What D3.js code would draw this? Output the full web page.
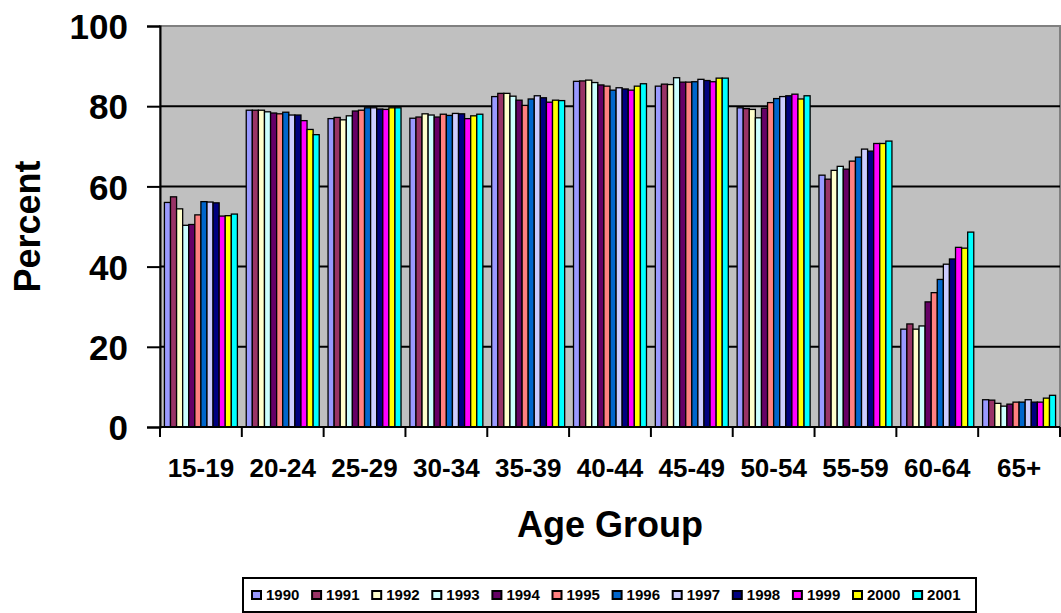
<!DOCTYPE html>
<html>
<head>
<meta charset="utf-8">
<script src="https://cdn.jsdelivr.net/npm/d3@7"></script>
<style>
  html, body { margin: 0; padding: 0; background: #ffffff; }
  svg { display: block; }
  text { font-family: "Liberation Sans", Arial, sans-serif; font-weight: bold; fill: #000; }
</style>
</head>
<body>
<svg id="chart" width="1061" height="613"></svg>
<script>
const categories = ["15-19","20-24","25-29","30-34","35-39","40-44","45-49","50-54","55-59","60-64","65+"];
const years = ["1990","1991","1992","1993","1994","1995","1996","1997","1998","1999","2000","2001"];
const colors = ["#9999FF","#993366","#FFFFCC","#CCFFFF","#660066","#FF8080","#0066CC","#CCCCFF","#000080","#FF00FF","#FFFF00","#00FFFF"];
const yTicks = [0,20,40,60,80,100];

const s1990 = [56.0, 79.0, 76.9, 77.0, 82.4, 86.2, 85.0, 79.6, 62.8, 24.4, 6.8];
const s1991 = [57.4, 79.0, 77.2, 77.3, 83.2, 86.3, 85.5, 79.4, 61.8, 25.7, 6.7];
const s1992 = [54.4, 79.0, 76.6, 78.1, 83.2, 86.5, 85.4, 79.2, 64.0, 24.4, 5.9];
const s1993 = [50.3, 78.6, 77.6, 77.8, 82.5, 85.9, 87.1, 77.1, 65.0, 25.2, 5.2];
const s1994 = [50.5, 78.3, 78.8, 77.3, 81.5, 85.3, 86.0, 79.5, 64.3, 31.2, 5.7];
const s1995 = [52.9, 78.1, 79.0, 78.0, 80.2, 85.0, 86.0, 80.9, 66.3, 33.5, 6.2];
const s1996 = [56.2, 78.5, 79.6, 77.7, 81.8, 84.0, 86.1, 81.9, 67.3, 36.8, 6.2];
const s1997 = [56.1, 77.8, 79.6, 78.2, 82.6, 84.6, 86.7, 82.4, 69.3, 40.6, 6.8];
const s1998 = [55.9, 77.8, 79.3, 78.1, 82.1, 84.3, 86.4, 82.6, 68.8, 41.9, 6.2];
const s1999 = [52.6, 76.4, 79.2, 76.9, 81.0, 84.0, 86.1, 83.0, 70.7, 44.8, 6.2];
const s2000 = [52.7, 74.2, 79.6, 77.6, 81.5, 85.0, 87.0, 81.8, 70.7, 44.6, 7.2];
const s2001 = [53.1, 72.9, 79.6, 78.0, 81.4, 85.6, 87.0, 82.6, 71.3, 48.6, 7.9];

const seriesValues = [s1990,s1991,s1992,s1993,s1994,s1995,s1996,s1997,s1998,s1999,s2000,s2001];

const svg = d3.select("#chart");
const plot = {left: 160, right: 1060, top: 26, bottom: 427};

const x0 = d3.scaleBand().domain(categories).range([plot.left, plot.right])
  .paddingInner(0.108).paddingOuter(0.054);
const x1 = d3.scaleBand().domain(years).range([0, x0.bandwidth()]);
const xEdge = d3.scaleLinear().domain([0, categories.length]).range([plot.left, plot.right]);
const y = d3.scaleLinear().domain([0, 100]).range([plot.bottom, plot.top]);

// plot background
svg.append("rect")
  .attr("x", plot.left).attr("y", plot.top)
  .attr("width", plot.right - plot.left).attr("height", plot.bottom - plot.top)
  .attr("fill", "#C0C0C0").attr("stroke", "#808080").attr("stroke-width", 2);

// gridlines
svg.append("g").selectAll("line")
  .data(yTicks.filter(t => t > 0 && t < 100))
  .join("line")
  .attr("x1", plot.left).attr("x2", plot.right)
  .attr("y1", d => y(d)).attr("y2", d => y(d))
  .attr("stroke", "#000").attr("stroke-width", 2);

// bars
const rows = categories.map((c, ci) => ({cat: c, vals: years.map((yr, si) => ({year: yr, si, v: seriesValues[si][ci]}))}));
svg.append("g").selectAll("g")
  .data(rows)
  .join("g")
  .attr("transform", d => `translate(${x0(d.cat)},0)`)
  .selectAll("rect")
  .data(d => d.vals)
  .join("rect")
  .attr("x", d => x1(d.year))
  .attr("y", d => y(d.v))
  .attr("width", x1.bandwidth())
  .attr("height", d => y(0) - y(d.v))
  .attr("fill", d => colors[d.si])
  .attr("stroke", "#000").attr("stroke-width", 1.3);

// y axis
const yAxis = d3.axisLeft(y).tickValues(yTicks).tickSize(13).tickPadding(19).tickFormat(d3.format("d"));
const gy = svg.append("g").attr("transform", `translate(${plot.left},0)`).call(yAxis);
gy.select(".domain").attr("stroke", "#000").attr("stroke-width", 2);
gy.selectAll(".tick line").attr("stroke", "#000").attr("stroke-width", 2);
gy.selectAll(".tick text").style("font-size", "35px").style("font-family", "'Liberation Sans', Arial, sans-serif").style("font-weight", "bold").attr("dy", "0.36em");

// x axis line and ticks at category edges
svg.append("line").attr("x1", plot.left).attr("x2", plot.right)
  .attr("y1", plot.bottom).attr("y2", plot.bottom)
  .attr("stroke", "#000").attr("stroke-width", 2);
svg.append("g").selectAll("line")
  .data(d3.range(categories.length + 1))
  .join("line")
  .attr("x1", d => xEdge(d)).attr("x2", d => xEdge(d))
  .attr("y1", plot.bottom).attr("y2", plot.bottom + 10)
  .attr("stroke", "#000").attr("stroke-width", 2);

// x labels
svg.append("g").selectAll("text")
  .data(categories)
  .join("text")
  .attr("x", d => x0(d) + x0.bandwidth() / 2)
  .attr("y", 477)
  .attr("text-anchor", "middle")
  .style("font-size", "26px")
  .text(d => d);

// axis titles
svg.append("text")
  .attr("x", (plot.left + plot.right) / 2).attr("y", 537)
  .attr("text-anchor", "middle").style("font-size", "36px")
  .text("Age Group");
svg.append("text")
  .attr("transform", `translate(40,${(plot.top + plot.bottom) / 2}) rotate(-90)`)
  .attr("text-anchor", "middle").style("font-size", "36px")
  .text("Percent");

// legend
const lg = {x: 243, y: 578, w: 733, h: 34, first: 251, step: 60.1};
svg.append("rect").attr("x", lg.x).attr("y", lg.y).attr("width", lg.w).attr("height", lg.h)
  .attr("fill", "#fff").attr("stroke", "#000").attr("stroke-width", 2);
const items = svg.append("g").selectAll("g")
  .data(years)
  .join("g")
  .attr("transform", (d, i) => `translate(${lg.first + i * lg.step},0)`);
items.append("rect")
  .attr("x", 1).attr("y", 591).attr("width", 9).attr("height", 8)
  .attr("fill", (d, i) => colors[i]).attr("stroke", "#000").attr("stroke-width", 2);
items.append("text")
  .attr("x", 15).attr("y", 600)
  .style("font-size", "15px")
  .text(d => d);
</script>
</body>
</html>
